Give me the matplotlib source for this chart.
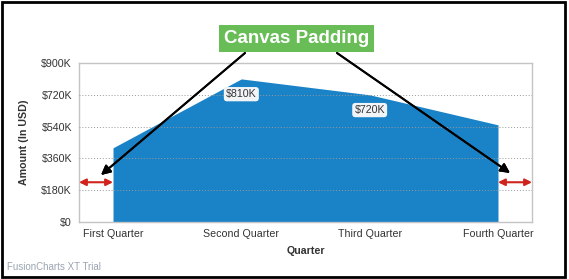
import numpy as np
import matplotlib.pyplot as plt
from matplotlib.patches import Rectangle

quarters = ["First Quarter", "Second Quarter", "Third Quarter", "Fourth Quarter"]
amounts = [420000, 810000, 720000, 550000]
labelled = [False, True, True, False]
yticks = [0, 180000, 360000, 540000, 720000, 900000]
ytick_labels = ["$0", "$180K", "$360K", "$540K", "$720K", "$900K"]

W, H = 569, 279
plt.rcParams["font.family"] = ["Liberation Sans", "DejaVu Sans"]

fig = plt.figure(figsize=(W / 100, H / 100), dpi=100)


def fx(px):
    return px / W


def fy(py):
    return 1 - py / H


ax = fig.add_axes([fx(79), fy(222), fx(532) - fx(79), fy(63) - fy(222)])

x = np.arange(len(quarters))
ax.fill_between(x, amounts, color="#1a82c6", lw=0, zorder=2)
ax.set_xlim(-0.265, 3.265)
ax.set_ylim(0, 900000)

ax.set_yticks(yticks)
ax.set_yticklabels(ytick_labels, fontsize=7.7, color="#333333")
ax.set_xticks(x)
ax.set_xticklabels(quarters, fontsize=7.7, color="#333333")
ax.tick_params(length=0, pad=5)
for t in yticks[1:-1]:
    ax.axhline(t, color="#999999", lw=0.7, ls=(0, (1, 2)), zorder=3)
for s in ax.spines.values():
    s.set_color("#c4c4c4")
    s.set_linewidth(1)

ax.set_xlabel("Quarter", fontsize=7.7, fontweight="bold", color="#333333", labelpad=5)
ax.set_ylabel("Amount (In USD)", fontsize=7.7, fontweight="bold", color="#333333", labelpad=9)

for xi, v, show in zip(x, amounts, labelled):
    if show:
        ax.annotate("$%dK" % (v // 1000), (xi, v), xytext=(0, -11), textcoords="offset points",
                    ha="center", va="center", fontsize=7.7, color="#333333", zorder=5,
                    bbox=dict(boxstyle="round,pad=0.2,rounding_size=0.3", fc="#f2f5f8", ec="none"))

# canvas padding markers (red double arrows)
for x0, x1 in [(ax.get_xlim()[0], 0), (3, ax.get_xlim()[1])]:
    ax.annotate("", xy=(x0, 0.25), xytext=(x1, 0.25),
                xycoords=ax.get_xaxis_transform(), textcoords=ax.get_xaxis_transform(),
                arrowprops=dict(arrowstyle="<|-|>", color="#d0231c", lw=1.5,
                                mutation_scale=10, shrinkA=0, shrinkB=0), zorder=6)

# callout box
fig.text(fx(296.5), fy(38.5), "Canvas Padding", ha="center", va="center", fontsize=13.5,
         fontweight="bold", color="white",
         bbox=dict(boxstyle="square,pad=0.28", fc="#69bd57", ec="none"))
for (sx, sy), (tx, ty) in [((245, 53), (101, 175)), ((337, 53), (510, 173))]:
    fig.add_artist(plt.annotate("", xy=(fx(tx), fy(ty)), xytext=(fx(sx), fy(sy)),
                                xycoords="figure fraction", textcoords="figure fraction",
                                arrowprops=dict(arrowstyle="-|>", color="black", lw=1.4,
                                                mutation_scale=14, shrinkA=0, shrinkB=0)))

fig.text(fx(7), fy(267), "FusionCharts XT Trial", fontsize=7, color="#9aa4b0", va="center")

fig.add_artist(Rectangle((fx(1.5), fy(277)), fx(565) - fx(1.5), fy(1.5) - fy(277),
                         transform=fig.transFigure, fill=False, ec="black", lw=2))

fig.savefig("out.png", dpi=100)
